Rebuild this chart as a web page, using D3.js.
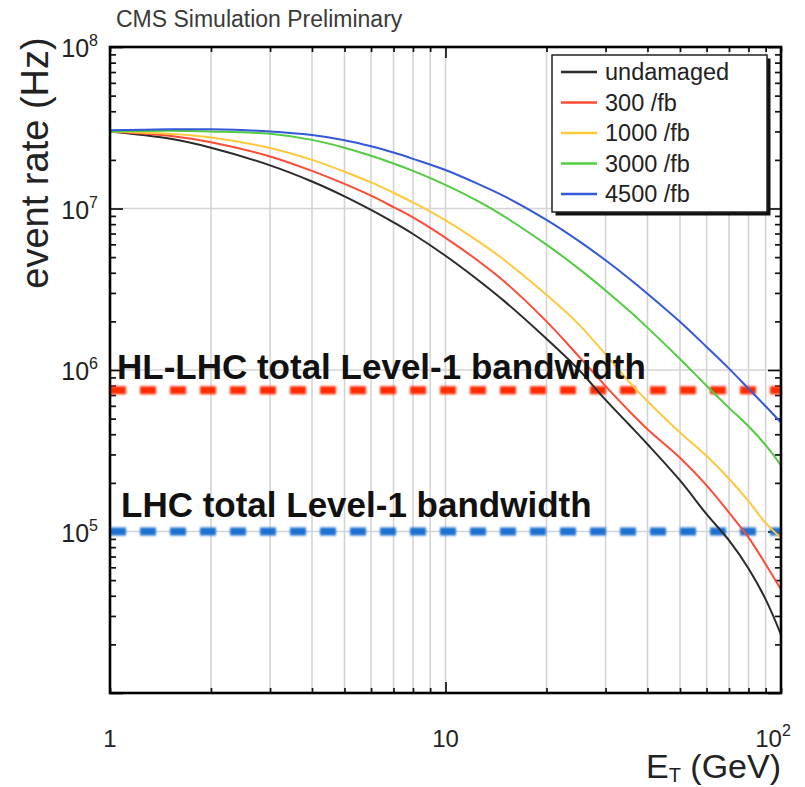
<!DOCTYPE html>
<html>
<head>
<meta charset="utf-8">
<script src="https://cdn.jsdelivr.net/npm/d3@7"></script>
<style>
  html, body { margin: 0; padding: 0; background: #fff; }
  svg { display: block; font-family: "Liberation Sans", Arial, Helvetica, sans-serif; }
</style>
</head>
<body>
<svg id="chart" width="805" height="787"></svg>
<script>
// Transverse energy threshold (GeV)
const et = [1, 1.5, 2, 3, 4, 5, 6, 7, 8, 10, 12.5, 15, 20, 25, 30, 35, 40, 50, 60, 70, 80, 90, 100];

// Event rate (Hz) per detector ageing scenario
const undamaged = [3.0e7, 2.71e7, 2.38e7, 1.85e7, 1.47e7, 1.19e7, 9.8e6, 8.2e6, 6.95e6, 5.1e6, 3.61e6, 2.66e6, 1.56e6, 1.0e6, 6.53e5, 4.66e5, 3.47e5, 2.07e5, 1.28e5, 8.8e4, 5.9e4, 3.8e4, 2.3e4];
const lumi300 = [3.0e7, 2.82e7, 2.57e7, 2.1e7, 1.71e7, 1.42e7, 1.2e7, 1.02e7, 8.8e6, 6.58e6, 4.75e6, 3.52e6, 2.0e6, 1.21e6, 7.94e5, 5.66e5, 4.3e5, 2.86e5, 1.93e5, 1.31e5, 9.2e4, 6.27e4, 4.37e4];
const lumi1000 = [3.0e7, 2.9e7, 2.75e7, 2.37e7, 2.0e7, 1.69e7, 1.45e7, 1.25e7, 1.09e7, 8.45e6, 6.28e6, 4.78e6, 2.92e6, 1.91e6, 1.25e6, 8.6e5, 6.4e5, 4.1e5, 2.93e5, 2.12e5, 1.54e5, 1.13e5, 9.1e4];
const lumi3000 = [3.0e7, 3.03e7, 3.0e7, 2.9e7, 2.66e7, 2.38e7, 2.12e7, 1.9e7, 1.71e7, 1.4e7, 1.11e7, 8.9e6, 5.97e6, 4.23e6, 3.11e6, 2.36e6, 1.83e6, 1.17e6, 7.98e5, 5.83e5, 4.48e5, 3.43e5, 2.57e5];
const lumi4500 = [3.05e7, 3.09e7, 3.09e7, 3.0e7, 2.85e7, 2.65e7, 2.43e7, 2.22e7, 2.03e7, 1.73e7, 1.42e7, 1.19e7, 8.5e6, 6.28e6, 4.78e6, 3.73e6, 2.97e6, 1.99e6, 1.39e6, 1.02e6, 7.67e5, 5.96e5, 4.72e5];

const seriesNames = ["undamaged", "300 /fb", "1000 /fb", "3000 /fb", "4500 /fb"];
const seriesValues = [undamaged, lumi300, lumi1000, lumi3000, lumi4500];
const seriesColors = ["#2b2b2b", "#ff4a35", "#ffc83c", "#52cc40", "#3358d8"];

// Trigger bandwidth limits (Hz)
const bandNames = ["HL-LHC total Level-1 bandwidth", "LHC total Level-1 bandwidth"];
const bandRates = [7.5e5, 1.0e5];
const bandColors = ["#ff2a06", "#1e6fd0"];

// Axis tick labels
const xTickValues = [1, 10, 100];
const xTickBase = ["1", "10", "10"];
const xTickExp = ["", "", "2"];
const yTickValues = [1e5, 1e6, 1e7, 1e8];
const yTickExp = ["5", "6", "7", "8"];

(function draw() {
  const svg = d3.select("#chart");
  const pLeft = 110, pRight = 781, pTop = 47, pBottom = 693;

  const x = d3.scaleLog().domain([1, 100]).range([pLeft, pRight]);
  const y = d3.scaleLog().domain([1e4, 1e8]).range([pBottom, pTop]);

  // positions inside each decade
  const xAll = [];
  for (let d = 1; d < 100; d *= 10) for (let k = 1; k < 10; k++) xAll.push(d * k);
  xAll.push(100);
  const yMajor = [1e4, 1e5, 1e6, 1e7, 1e8];
  const yMinorOnly = [];
  for (let d = 1e4; d < 1e8; d *= 10) for (let k = 2; k < 10; k++) yMinorOnly.push(d * k);
  const xMajor = [10];
  const xMinorOnly = xAll.filter(v => v !== 10);

  // grid
  const grid = svg.append("g").attr("stroke", "#d4d4d4").attr("stroke-width", 1.6);
  grid.selectAll("line.vx").data(xAll.filter(v => v > 1 && v < 100)).join("line")
    .attr("class", "vx")
    .attr("x1", d => x(d)).attr("x2", d => x(d)).attr("y1", pTop).attr("y2", pBottom);
  grid.selectAll("line.hy").data([1e5, 1e6, 1e7]).join("line")
    .attr("class", "hy")
    .attr("x1", pLeft).attr("x2", pRight).attr("y1", d => y(d)).attr("y2", d => y(d));

  // axis ticks, drawn inward on all four sides
  const tickLayer = svg.append("g").attr("class", "ticks");
  function tickAxis(axis, tx, ty) {
    const g = tickLayer.append("g").attr("transform", `translate(${tx},${ty})`).call(axis);
    g.select(".domain").remove();
    g.selectAll(".tick text").remove();
    g.selectAll(".tick line").attr("stroke", "#111").attr("stroke-width", 1.7);
    return g;
  }
  tickAxis(d3.axisRight(y).tickValues(yMajor).tickSize(13).tickFormat(""), pLeft, 0);
  tickAxis(d3.axisRight(y).tickValues(yMinorOnly).tickSize(6).tickFormat(""), pLeft, 0);
  tickAxis(d3.axisLeft(y).tickValues(yMajor).tickSize(13).tickFormat(""), pRight, 0);
  tickAxis(d3.axisLeft(y).tickValues(yMinorOnly).tickSize(6).tickFormat(""), pRight, 0);
  tickAxis(d3.axisTop(x).tickValues(xMajor).tickSize(11).tickFormat(""), 0, pBottom);
  tickAxis(d3.axisTop(x).tickValues(xMinorOnly).tickSize(5).tickFormat(""), 0, pBottom);
  tickAxis(d3.axisBottom(x).tickValues(xMajor).tickSize(11).tickFormat(""), 0, pTop);
  tickAxis(d3.axisBottom(x).tickValues(xMinorOnly).tickSize(5).tickFormat(""), 0, pTop);

  // bandwidth limits
  const defs = svg.append("defs");
  defs.append("filter").attr("id", "soft").attr("filterUnits", "userSpaceOnUse")
    .attr("x", 0).attr("y", 0).attr("width", 805).attr("height", 787)
    .append("feGaussianBlur").attr("stdDeviation", 0.8);
  svg.append("g").selectAll("line").data(bandRates).join("line")
    .attr("x1", pLeft).attr("x2", pRight)
    .attr("y1", d => y(d)).attr("y2", d => y(d))
    .attr("stroke", (d, i) => bandColors[i])
    .attr("stroke-width", 8)
    .attr("stroke-dasharray", "16 14")
    .attr("filter", "url(#soft)");

  // rate curves
  const line = d3.line().x((d, i) => x(et[i])).y(d => y(d)).curve(d3.curveCatmullRom.alpha(0.5));
  svg.append("g").selectAll("path").data(seriesValues).join("path")
    .attr("d", d => line(d))
    .attr("fill", "none")
    .attr("stroke", (d, i) => seriesColors[i])
    .attr("stroke-width", 2);

  // bandwidth labels
  svg.append("g").selectAll("text").data(bandNames).join("text")
    .attr("x", (d, i) => i === 0 ? 117 : 121)
    .attr("y", (d, i) => y(bandRates[i]) - (i === 0 ? 11 : 15))
    .attr("font-size", 35)
    .attr("font-weight", "bold")
    .attr("fill", "#111")
    .text(d => d);

  // frame
  svg.append("rect").attr("x", pLeft).attr("y", pTop).attr("width", pRight - pLeft).attr("height", pBottom - pTop)
    .attr("fill", "none").attr("stroke", "#000").attr("stroke-width", 2.6);

  // legend
  const lg = svg.append("g");
  const lx = 552, ly = 55, lw = 215, lh = 157;
  lg.append("rect").attr("x", lx + 3.5).attr("y", ly + 3.5).attr("width", lw).attr("height", lh).attr("fill", "#111");
  lg.append("rect").attr("x", lx).attr("y", ly).attr("width", lw).attr("height", lh)
    .attr("fill", "#fff").attr("stroke", "#222").attr("stroke-width", 1.5);
  const rows = lg.selectAll("g.row").data(seriesNames).join("g")
    .attr("class", "row")
    .attr("transform", (d, i) => `translate(0,${72 + i * 30.5})`);
  rows.append("line").attr("x1", 561).attr("x2", 597).attr("y1", 0).attr("y2", 0)
    .attr("stroke", (d, i) => seriesColors[i]).attr("stroke-width", 2.4);
  rows.append("text").attr("x", 605).attr("y", 0).attr("dy", "0.36em")
    .attr("font-size", 23.5).attr("fill", "#222").text(d => d);

  // tick labels
  const xl = svg.append("g").attr("font-size", 24).attr("fill", "#222");
  xTickValues.forEach((v, i) => {
    const t = xl.append("text").attr("x", x(v) + (i === 2 ? -8 : 0)).attr("y", 747).attr("text-anchor", "middle");
    t.append("tspan").text(xTickBase[i]);
    if (xTickExp[i]) t.append("tspan").attr("dy", -11).attr("font-size", 16).text(xTickExp[i]);
  });
  const yl = svg.append("g").attr("font-size", 25).attr("fill", "#222");
  yTickValues.forEach((v, i) => {
    const t = yl.append("text").attr("x", 98).attr("y", y(v) + 10).attr("text-anchor", "end");
    t.append("tspan").text("10");
    t.append("tspan").attr("dy", -11).attr("font-size", 16).text(yTickExp[i]);
  });

  // axis titles
  const xt = svg.append("text").attr("x", 781).attr("y", 778).attr("text-anchor", "end")
    .attr("font-size", 34).attr("fill", "#222");
  xt.append("tspan").text("E");
  xt.append("tspan").attr("dy", 4).attr("font-size", 20).text("T");
  xt.append("tspan").attr("dy", -4).text(" (GeV)");

  svg.append("text").attr("transform", "translate(48,163) rotate(-90)")
    .attr("text-anchor", "middle").attr("font-size", 38).attr("fill", "#222")
    .text("event rate (Hz)");

  svg.append("text").attr("x", 116).attr("y", 27).attr("font-size", 23).attr("fill", "#3a3a3a")
    .text("CMS Simulation Preliminary");
})();
</script>
</body>
</html>
